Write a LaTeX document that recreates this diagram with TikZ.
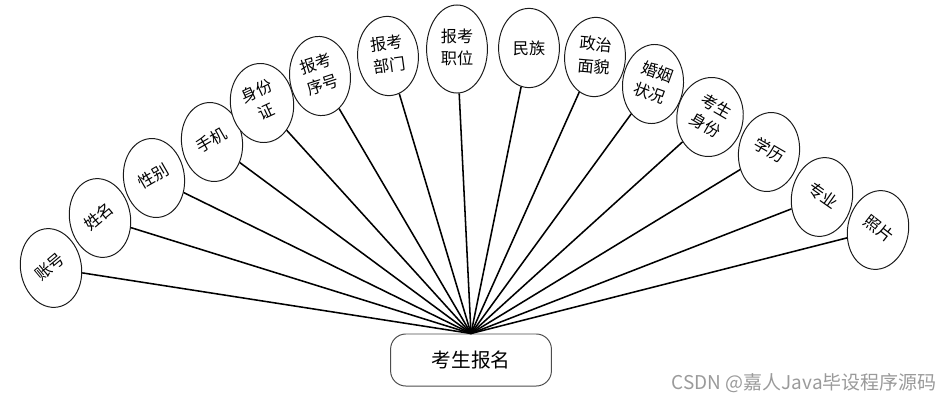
\documentclass[tikz,border=0pt]{standalone}
\usepackage{fontspec}
\usepackage{tikz}
\usetikzlibrary{shapes.geometric}
\newfontfamily\cjk{Noto Sans CJK SC}
\definecolor{rand}{HTML}{1A1A1A}
\definecolor{kasten}{HTML}{4D4D4D}
\definecolor{wasser}{HTML}{9A9A9A}
\newcommand{\dreh}[2]{\rotatebox{#1}{\begin{tabular}{@{}c@{}}#2\end{tabular}}}
\tikzset{
  attr/.style={draw=rand,ellipse,line width=0.7pt,fill=white,minimum width=1.52cm,minimum height=1.98cm,inner sep=0pt,font=\cjk\fontsize{11.5}{16}\selectfont},
  kante/.style={black,line width=1.1pt},
  haupt/.style={draw=kasten,rounded corners=0.38cm,line width=0.7pt,minimum width=4.02cm,minimum height=1.3cm,font=\cjk\fontsize{14}{16}\selectfont},
}
\begin{document}
\begin{tikzpicture}[x=0.025cm,y=-0.025cm]
  \useasboundingbox (0,0) rectangle (951,402);
  % ===== Entitaet =====
  \node[haupt] (kb) at (471,360) {考生报名};
  % ===== Attribute, links =====
  \node[attr,rotate=10] (a1) at (51,268) {\dreh{30}{账号}};
  \node[attr,rotate=10] (a2) at (100,218) {\dreh{30}{姓名}};
  \node[attr,rotate=8] (a3) at (154,178) {\dreh{22}{性别}};
  \node[attr,rotate=8] (a4) at (212,142) {\dreh{22}{手机}};
  \node[attr,rotate=7] (a5) at (262,103) {\dreh{18}{身份\\证}};
  \node[attr,rotate=5] (a6) at (320,76) {\dreh{13}{报考\\序号}};
  \node[attr,rotate=3] (a7) at (388,56) {\dreh{5}{报考\\部门}};
  % ===== Attribute, Mitte =====
  \node[attr,minimum height=2.2cm] (a8) at (457,49) {\dreh{0}{报考\\职位}};
  \node[attr] (a9) at (529,48) {民族};
  % ===== Attribute, rechts =====
  \node[attr,rotate=-3] (a10) at (595,57) {\dreh{-2}{政治\\面貌}};
  \node[attr,rotate=-6] (a11) at (653,84) {\dreh{-14}{婚姻\\状况}};
  \node[attr,rotate=-8] (a12) at (710,117) {\dreh{-22}{考生\\身份}};
  \node[attr,rotate=-8] (a13) at (769,152) {\dreh{-22}{学历}};
  \node[attr,rotate=-10] (a14) at (822,197) {\dreh{-25}{专业}};
  \node[attr,rotate=-10] (a15) at (878,230) {\dreh{-28}{照片}};
  % ===== Kanten =====
  \draw[kante] (kb.north) -- (a1);
  \draw[kante] (kb.north) -- (a2);
  \draw[kante] (kb.north) -- (a3);
  \draw[kante] (kb.north) -- (a4);
  \draw[kante] (kb.north) -- (a5);
  \draw[kante] (kb.north) -- (a6);
  \draw[kante] (kb.north) -- (a7);
  \draw[kante] (kb.north) -- (a8);
  \draw[kante] (kb.north) -- (a9);
  \draw[kante] (kb.north) -- (a10);
  \draw[kante] (kb.north) -- (a11);
  \draw[kante] (kb.north) -- (a12);
  \draw[kante] (kb.north) -- (a13);
  \draw[kante] (kb.north) -- (a14);
  \draw[kante] (kb.north) -- (a15);
  % Wasserzeichen
  \node[wasser,font=\cjk\fontsize{13.5}{15}\selectfont,anchor=east,inner sep=0pt] (wz) at (937,383) {CSDN @嘉人Java毕设程序源码};
\end{tikzpicture}
\end{document}
